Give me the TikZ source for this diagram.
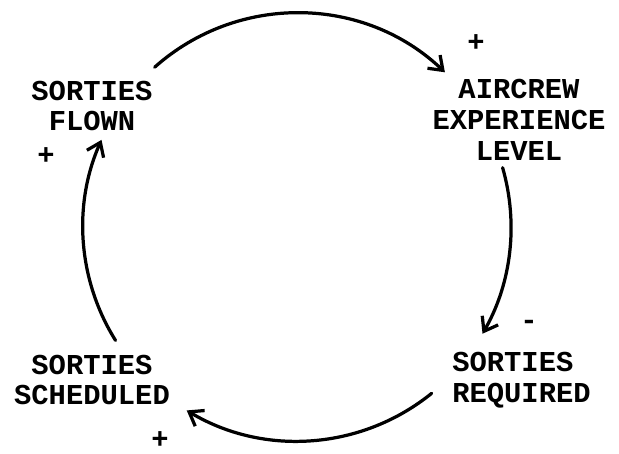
\documentclass[tikz,border=0pt]{standalone}
\usepackage{fontspec}
\setmonofont{Liberation Mono}
\usetikzlibrary{arrows.meta, calc}
\tikzset{
  varnode/.style={font=\ttfamily\bfseries\fontsize{20.5}{21.8}\selectfont,
    align=center, inner sep=0pt},
  signnode/.style={font=\ttfamily\bfseries\fontsize{20.5}{21.8}\selectfont,
    inner sep=0pt},
  link/.style={-{Straight Barb[length=9pt,width=13pt,line width=2.3pt]},
    line width=2.3pt, line cap=round}
}
\begin{document}
\begin{tikzpicture}[x=0.025cm, y=0.025cm]
  \useasboundingbox (0,0) rectangle (619,454);
  % Variables
  \node[varnode] (flown) at (92,348) {SORTIES\\FLOWN};
  \node[varnode] (aircrew) at (519,334) {AIRCREW\\EXPERIENCE\\LEVEL};
  \node[varnode, align=left, anchor=west] (required) at (452,74) {SORTIES\\REQUIRED};
  \node[varnode] (scheduled) at (92,74) {SORTIES\\SCHEDULED};
  % Polarity signs
  \node[signnode] (flownsign) at (46,298) {+};
  \node[signnode] (aircrewsign) at (476,411) {+};
  \node[signnode] (requiredsign) at (529,129) {-};
  \node[signnode] (scheduledsign) at (160,14) {+};
  % Loop arcs
  \coordinate (hub) at (297,227);
  \coordinate (flownout) at ($(hub)+(131.7:214)$);
  \coordinate (aircrewout) at ($(hub)+(16.1:214)$);
  \coordinate (requiredout) at ($(hub)+(-51:214)$);
  \coordinate (scheduledout) at ($(hub)+(-148:214)$);
  \draw[link] (flownout) arc[start angle=131.7, end angle=46.3, radius=5.35cm];
  \draw[link] (aircrewout) arc[start angle=16.1, end angle=-29.9, radius=5.35cm];
  \draw[link] (requiredout) arc[start angle=-51, end angle=-121, radius=5.35cm];
  \draw[link] (scheduledout) arc[start angle=-148, end angle=-204, radius=5.35cm];
\end{tikzpicture}
\end{document}
